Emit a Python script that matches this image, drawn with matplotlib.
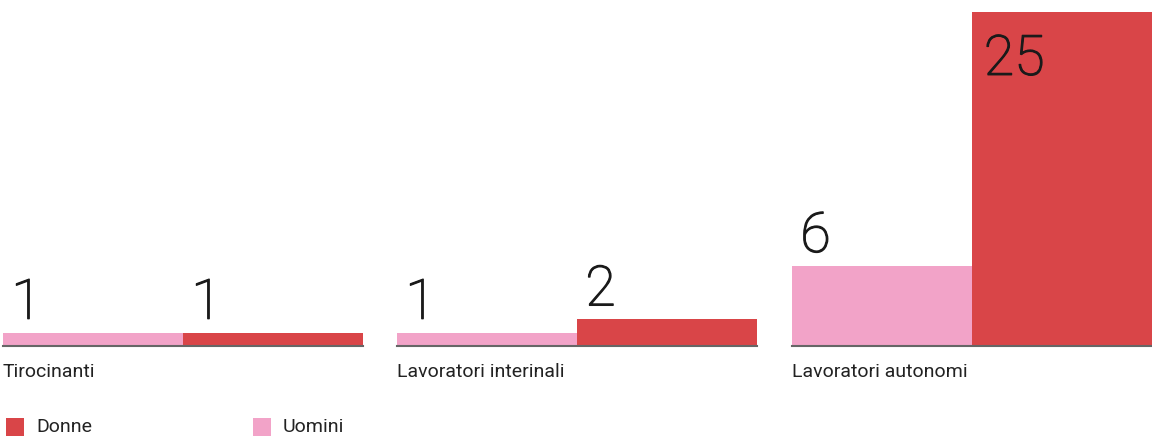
import matplotlib.pyplot as plt
import matplotlib.patheffects as pe
from matplotlib.patches import Rectangle

# data
categories = ["Tirocinanti", "Lavoratori interinali", "Lavoratori autonomi"]
series = ["Uomini", "Donne"]
uomini = [1, 1, 6]
donne = [1, 2, 25]

col_uomini = "#f2a3c8"
col_donne = "#d94548"
txt_col = "#222222"

W, H = 1152, 443
fig = plt.figure(figsize=(W / 100, H / 100), dpi=100)

font = ["Roboto", "DejaVu Sans"]
ymax = max(donne + uomini)
# thicken the light digits a bit
thick = [pe.withStroke(linewidth=0.9, foreground="#1a1a1a")]

# group axes, pixel lefts
lefts = [3, 397, 792]
gw = 360
bottom_px = 346
top_px = 12

for i, cat in enumerate(categories):
    ax = fig.add_axes([lefts[i] / W, (H - bottom_px) / H, gw / W, (bottom_px - top_px) / H])
    vals = [uomini[i], donne[i]]
    cols = [col_uomini, col_donne]
    ax.bar([0, 1], vals, width=1, align="edge", color=cols, linewidth=0)
    ax.set_xlim(0, 2)
    ax.set_ylim(0, ymax)
    ax.axis("off")
    ax.axhline(0, color="#666666", lw=1.5, clip_on=False)
    for j, v in enumerate(vals):
        if v == ymax:
            ax.annotate(str(v), xy=(j, v), xytext=(8.5, -15), textcoords="offset points",
                        ha="left", va="top", fontsize=40, family=font, fontweight="light",
                        color="#1a1a1a", path_effects=thick)
        else:
            ax.annotate(str(v), xy=(j, v), xytext=(6, 10), textcoords="offset points",
                        ha="left", va="baseline", fontsize=40, family=font, fontweight="light",
                        color="#1a1a1a", path_effects=thick)
    ax.annotate(cat, xy=(0, 0), xycoords="axes fraction", xytext=(0, -12),
                textcoords="offset points", ha="left", va="top", fontsize=14,
                family=font, color=txt_col)

# legend drawn by hand
leg = [("Donne", col_donne, 6), ("Uomini", col_uomini, 253)]
for name, c, x in leg:
    fig.add_artist(Rectangle((x / W, (H - 436) / H), 18 / W, 18 / H,
                             transform=fig.transFigure, color=c, lw=0))
    fig.text((x + 30) / W, (H - 427) / H, name, ha="left", va="center",
             fontsize=14, family=font, color=txt_col)

fig.savefig("out.png", dpi=100, facecolor="white")
